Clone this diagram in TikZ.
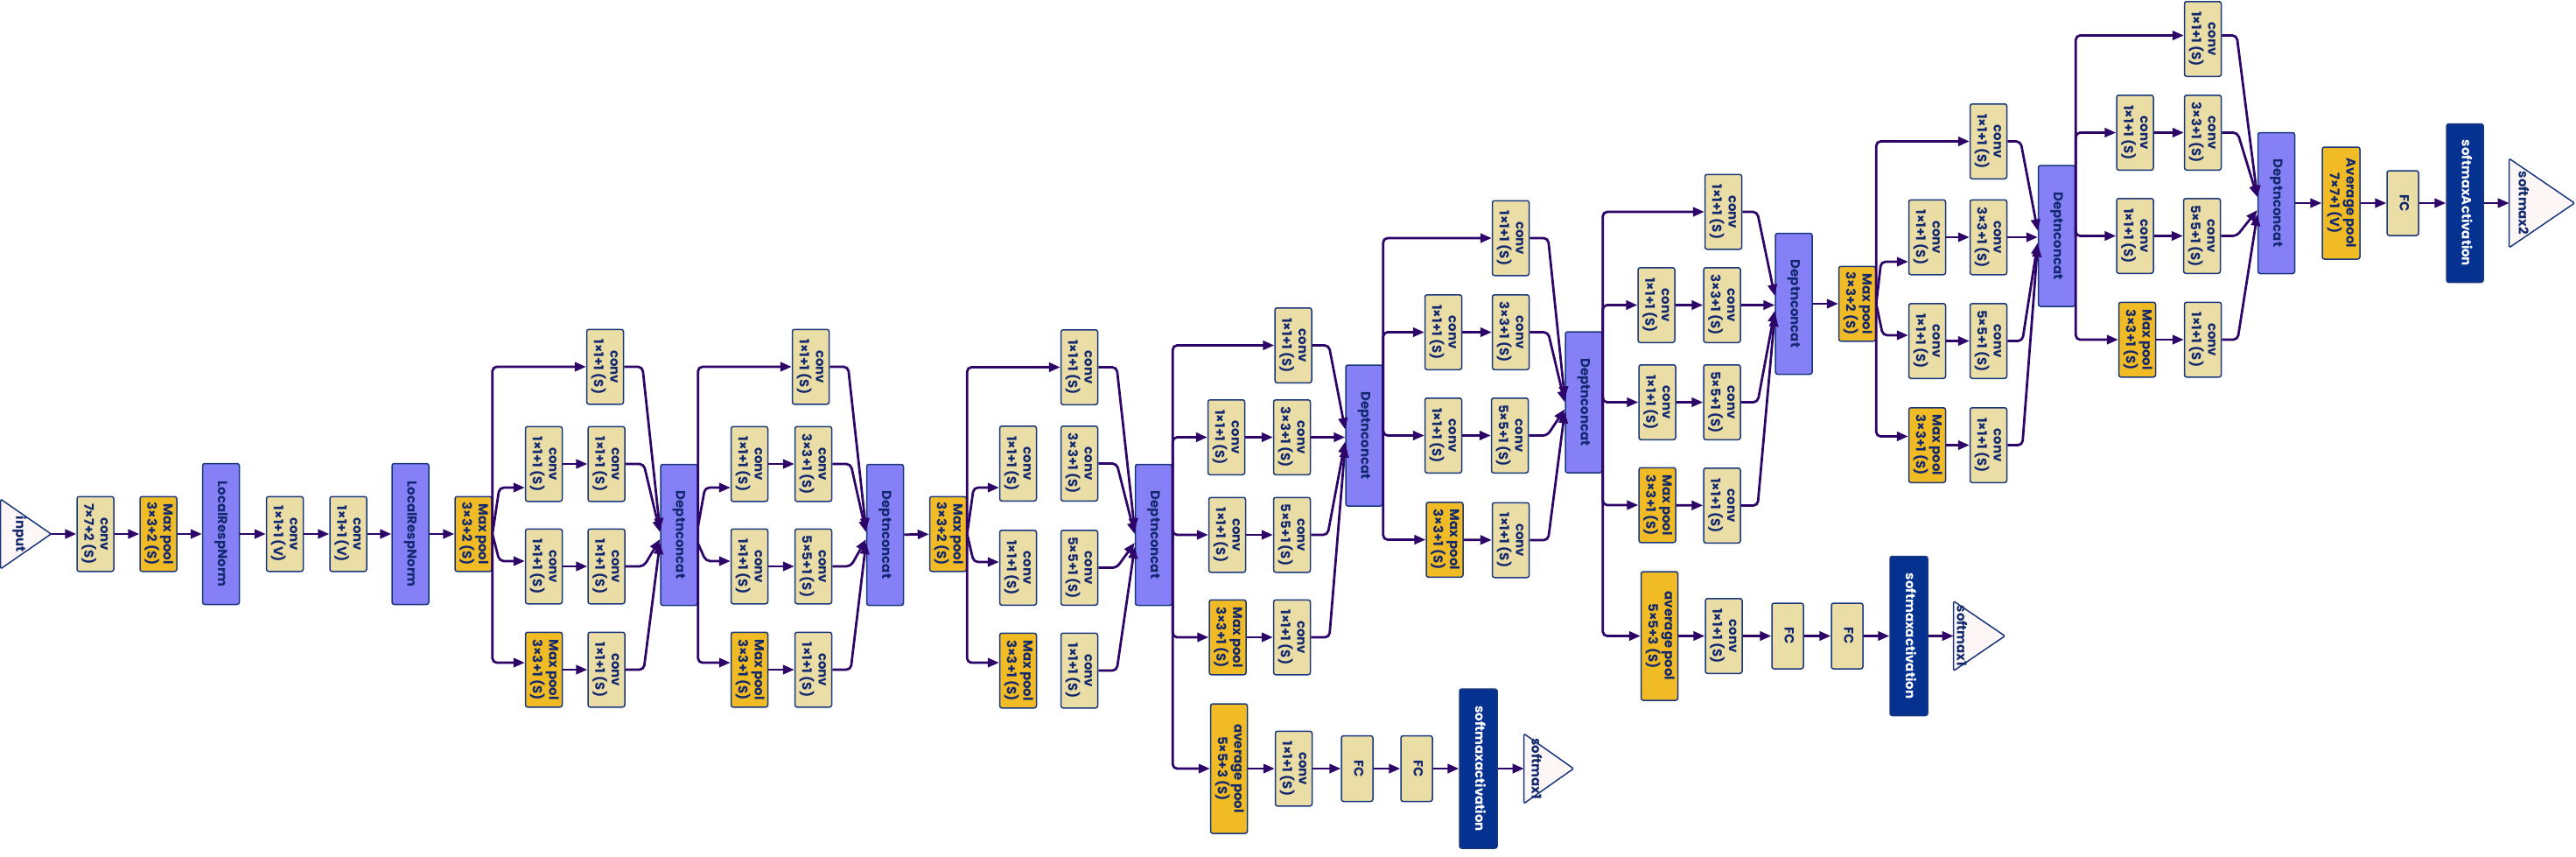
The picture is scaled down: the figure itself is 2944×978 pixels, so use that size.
\documentclass[tikz,border=0pt]{standalone}
\usepackage{fontspec}
\setmainfont{Poppins}
\usepackage{graphicx}
\usetikzlibrary{arrows.meta,calc,backgrounds}

\definecolor{convfill}{RGB}{235,221,166}
\definecolor{poolfill}{RGB}{240,187,36}
\definecolor{catfill}{RGB}{133,128,245}
\definecolor{actfill}{RGB}{5,50,145}
\definecolor{trifill}{RGB}{253,246,246}
\definecolor{edgeblue}{RGB}{25,55,125}
\definecolor{txtblue}{RGB}{18,40,110}
\definecolor{arrowc}{RGB}{45,5,105}

% rotated (top to bottom) box labels
\newcommand{\vt}[1]{\rotatebox{-90}{\begin{tabular}{@{}c@{}}#1\end{tabular}}}
\newcommand{\cv}[1]{\vt{conv\\#1}}
% label pushed towards the base of a triangle
\newcommand{\tl}[2]{\makebox[0pt]{\vt{#1}\hspace{#2}}}

\begin{document}
\begin{tikzpicture}[
    x=0.2mm, y=-0.2mm,
    base/.style={rectangle, rounded corners=0.5mm, draw=edgeblue, line width=0.3mm,
                 inner sep=0pt, text=txtblue, font=\fontsize{8.5}{9.4}\selectfont\bfseries},
    convbox/.style={base, fill=convfill, minimum width=8.4mm, minimum height=17.1mm},
    poolbox/.style={base, fill=poolfill, minimum width=8.4mm, minimum height=17.1mm},
    catbox/.style={base, fill=catfill, minimum width=8.4mm, minimum height=32.2mm},
    fcbox/.style={base, fill=convfill, minimum width=7.2mm, minimum height=15mm},
    actbox/.style={base, fill=actfill, text=white, minimum width=8.6mm, minimum height=36.4mm},
    iotri/.style={rectangle, inner sep=0pt, text=txtblue,
                  font=\fontsize{8.5}{9.4}\selectfont\bfseries},
    trishape/.style={draw=edgeblue, fill=trifill, line width=0.3mm, rounded corners=0.3mm},
    arr/.style={-{Triangle[length=2.6mm,width=2.1mm]}, line width=0.55mm,
                draw=arrowc, rounded corners=1mm}
]
\useasboundingbox (0,0) rectangle (2944,978);

% --- stem ---
\node[iotri, minimum width=11.4mm, minimum height=15.8mm] (in) at (29.5,610) {\tl{input}{3mm}};
\node[convbox] (conv1) at (109,610) {\cv{7×7+2 (S)}};
\node[poolbox] (pool1) at (181,610) {\vt{Max pool\\3×3+2 (S)}};
\node[catbox] (norm1) at (252.5,610) {\vt{LocalRespNorm}};
\node[convbox] (conv2) at (325.5,610) {\cv{1×1+1 (V)}};
\node[convbox] (conv3) at (398,610) {\cv{1×1+1 (V)}};
\node[catbox] (norm2) at (469,610) {\vt{LocalRespNorm}};
\node[poolbox] (pool2) at (541,610) {\vt{Max pool\\3×3+2 (S)}};

\draw[arr] (in.east) -- (conv1);
\foreach \s/\t in {conv1/pool1,pool1/norm1,norm1/conv2,conv2/conv3,conv3/norm2,norm2/pool2}
  \draw[arr] (\s) -- (\t);

% --- inception 3a ---
\node[convbox] (a1) at (691.5,419) {\cv{1×1+1 (S)}};
\node[convbox] (a2) at (621.5,530) {\cv{1×1+1 (S)}};
\node[convbox] (a3) at (693,530) {\cv{1×1+1 (S)}};
\node[convbox] (a4) at (621.5,647) {\cv{1×1+1 (S)}};
\node[convbox] (a5) at (693,647) {\cv{1×1+1 (S)}};
\node[poolbox] (a6) at (621.5,765) {\vt{Max pool\\3×3+1 (S)}};
\node[convbox] (a7) at (693,765) {\cv{1×1+1 (S)}};
\node[catbox] (cat3a) at (776,611) {\vt{Deptnconcat}};

\draw[arr] (pool2.east) |- (a1.west);
\draw[arr] (pool2.east) -- ($(a2.west)+(-29,27)$) -- ($(a2.west)+(0,27)$);
\draw[arr] (pool2.east) -- ($(a4.west)+(-29,-6)$) -- ($(a4.west)+(0,-6)$);
\draw[arr] (pool2.east) |- ($(a6.west)+(0,-8)$);
\foreach \s/\t in {a2/a3,a4/a5,a6/a7} \draw[arr] (\s) -- (\t);
\foreach \s/\d in {a1/-6,a3/-3,a5/5,a7/9}
  \draw[arr] (\s.east) -- ++(21,0) -- ($(cat3a.west)+(0,\d)$);

% --- inception 3b ---
\node[convbox] (b1) at (926.5,419) {\cv{1×1+1 (S)}};
\node[convbox] (b2) at (856.5,530) {\cv{1×1+1 (S)}};
\node[convbox] (b3) at (929.5,530) {\cv{3×3+1 (S)}};
\node[convbox] (b4) at (856.5,647) {\cv{1×1+1 (S)}};
\node[convbox] (b5) at (929.5,647) {\cv{5×5+1 (S)}};
\node[poolbox] (b6) at (856.5,765) {\vt{Max pool\\3×3+1 (S)}};
\node[convbox] (b7) at (929.5,765) {\cv{1×1+1 (S)}};
\node[catbox] (cat3b) at (1011.5,611) {\vt{Deptnconcat}};

\draw[arr] (cat3a.east) |- (b1.west);
\draw[arr] ($(cat3a.east)+(0,-10)$) -- ($(b2.west)+(-29,27)$) -- ($(b2.west)+(0,27)$);
\draw[arr] ($(cat3a.east)+(0,10)$) -- ($(b4.west)+(-28,-6)$) -- ($(b4.west)+(0,-6)$);
\draw[arr] (cat3a.east) |- ($(b6.west)+(0,-8)$);
\foreach \s/\t in {b2/b3,b4/b5,b6/b7} \draw[arr] (\s) -- (\t);
\foreach \s/\d in {b1/-6,b3/-3,b5/5,b7/9}
  \draw[arr] (\s.east) -- ++(21,0) -- ($(cat3b.west)+(0,\d)$);

\node[poolbox] (pool3) at (1083.5,610) {\vt{Max pool\\3×3+2 (S)}};
\draw[arr] (cat3b) -- (pool3);

% --- inception 4a ---
\node[convbox] (c1) at (1233.5,419.5) {\cv{1×1+1 (S)}};
\node[convbox] (c2) at (1163.5,529.5) {\cv{1×1+1 (S)}};
\node[convbox] (c3) at (1233.5,529.5) {\cv{3×3+1 (S)}};
\node[convbox] (c4) at (1163.5,648.5) {\cv{1×1+1 (S)}};
\node[convbox] (c5) at (1233.5,648.5) {\cv{5×5+1 (S)}};
\node[poolbox] (c6) at (1163.5,766) {\vt{Max pool\\3×3+1 (S)}};
\node[convbox] (c7) at (1233.5,766) {\cv{1×1+1 (S)}};
\node[catbox] (cat4a) at (1318.5,611) {\vt{Deptnconcat}};

\draw[arr] (pool3.east) |- (c1.west);
\draw[arr] (pool3.east) -- ($(c2.west)+(-29,27.5)$) -- ($(c2.west)+(0,27.5)$);
\draw[arr] (pool3.east) -- ($(c4.west)+(-29,-6.5)$) -- ($(c4.west)+(0,-6.5)$);
\draw[arr] (pool3.east) |- ($(c6.west)+(0,-9)$);
\foreach \s/\d in {c1/-6,c3/-1,c5/9,c7/14}
  \draw[arr] (\s.east) -- ++(21,0) -- ($(cat4a.west)+(0,\d)$);

% --- inception 4b + auxiliary classifier ---
\node[convbox] (d1) at (1478,394.5) {\cv{1×1+1 (S)}};
\node[convbox] (d2) at (1401.5,499.5) {\cv{1×1+1 (S)}};
\node[convbox] (d3) at (1476.5,499.5) {\cv{3×3+1 (S)}};
\node[convbox] (d4) at (1402.5,611) {\cv{1×1+1 (S)}};
\node[convbox] (d5) at (1476.5,611) {\cv{5×5+1 (S)}};
\node[poolbox] (d6) at (1403,728) {\vt{Max pool\\3×3+1 (S)}};
\node[convbox] (d7) at (1476.5,728) {\cv{1×1+1 (S)}};
\node[catbox] (cat4b) at (1559,497.5) {\vt{Deptnconcat}};

\node[poolbox, minimum height=29.6mm] (x1) at (1404.5,878) {\vt{average pool\\5×5+3 (S)}};
\node[convbox] (x2) at (1478.5,878) {\cv{1×1+1 (S)}};
\node[fcbox] (x3) at (1551,878) {\vt{FC}};
\node[fcbox] (x4) at (1619,878) {\vt{FC}};
\node[actbox] (x5) at (1689.5,878) {\vt{softmaxactivation}};
\node[iotri, minimum width=11.2mm, minimum height=15.8mm] (x6) at (1770,878) {\tl{softmax1}{6.4mm}};

\foreach \t in {d1,d2,d4,d6,x1} \draw[arr] (cat4a.east) |- (\t.west);
\foreach \s/\t in {d2/d3,d4/d5,d6/d7,x1/x2,x2/x3,x3/x4,x4/x5,x5/x6} \draw[arr] (\s) -- (\t);
\draw[arr] (d1.east) -- ++(19,0) -- ($(cat4b.west)+(0,-7)$);
\draw[arr] (d3.east) -- (d3.east -| cat4b.west);
\draw[arr] (d5.east) -- ++(19,0) -- ($(cat4b.west)+(0,7)$);
\draw[arr] (d7.east) -- ++(21,0) -- ($(cat4b.west)+(0,12)$);

% --- inception 4c ---
\node[convbox] (e1) at (1726.5,272) {\cv{1×1+1 (S)}};
\node[convbox] (e2) at (1649.5,379.5) {\cv{1×1+1 (S)}};
\node[convbox] (e3) at (1726.5,379.5) {\cv{3×3+1 (S)}};
\node[convbox] (e4) at (1649.5,497.5) {\cv{1×1+1 (S)}};
\node[convbox] (e5) at (1725.5,497.5) {\cv{5×5+1 (S)}};
\node[poolbox] (e6) at (1651,616.5) {\vt{Max pool\\3×3+1 (S)}};
\node[convbox] (e7) at (1726.5,617) {\cv{1×1+1 (S)}};
\node[catbox] (cat4c) at (1810,459.5) {\vt{Deptnconcat}};

\foreach \t in {e1,e2,e4,e6} \draw[arr] (cat4b.east) |- (\t.west);
\foreach \s/\t in {e2/e3,e4/e5,e6/e7} \draw[arr] (\s) -- (\t);
\foreach \s/\d in {e1/-5,e3/0,e5/8,e7/11}
  \draw[arr] (\s.east) -- ++(21,0) -- ($(cat4c.west)+(0,\d)$);

% --- inception 4d + auxiliary classifier ---
\node[convbox] (f1) at (1969.5,242) {\cv{1×1+1 (S)}};
\node[convbox] (f2) at (1893,348.5) {\cv{1×1+1 (S)}};
\node[convbox] (f3) at (1968,348.5) {\cv{3×3+1 (S)}};
\node[convbox] (f4) at (1894,459.5) {\cv{1×1+1 (S)}};
\node[convbox] (f5) at (1968,459.5) {\cv{5×5+1 (S)}};
\node[poolbox] (f6) at (1894,577) {\vt{Max pool\\3×3+1 (S)}};
\node[convbox] (f7) at (1968,577.5) {\cv{1×1+1 (S)}};
\node[catbox] (cat4d) at (2050,347) {\vt{Deptnconcat}};

\node[poolbox, minimum height=29.4mm] (y1) at (1896.5,726.5) {\vt{average pool\\5×5+3 (S)}};
\node[convbox] (y2) at (1970,726.5) {\cv{1×1+1 (S)}};
\node[fcbox] (y3) at (2043,726.5) {\vt{FC}};
\node[fcbox] (y4) at (2111,726.5) {\vt{FC}};
\node[actbox] (y5) at (2181.5,726.5) {\vt{softmaxactivation}};
\node[iotri, minimum width=11.6mm, minimum height=15.8mm] (y6) at (2262,726.5) {\tl{softmax1}{8.8mm}};

\foreach \t in {f1,f2,f4,f6,y1} \draw[arr] (cat4c.east) |- (\t.west);
\foreach \s/\t in {f2/f3,f4/f5,f6/f7,y1/y2,y2/y3,y3/y4,y4/y5,y5/y6} \draw[arr] (\s) -- (\t);
\draw[arr] (f1.east) -- ++(17,0) -- ($(cat4d.west)+(0,-9)$);
\draw[arr] (f3.east) -- (f3.east -| cat4d.west);
\draw[arr] (f5.east) -- ++(19,0) -- ($(cat4d.west)+(0,8)$);
\draw[arr] (f7.east) -- ++(19,0) -- ($(cat4d.west)+(0,13)$);

\node[poolbox] (pool4) at (2122.5,347) {\vt{Max pool\\3×3+2 (S)}};
\draw[arr] (cat4d) -- (pool4);

% --- inception 5a ---
\node[convbox] (g1) at (2272.5,161.5) {\cv{1×1+1 (S)}};
\node[convbox] (g2) at (2202.5,271) {\cv{1×1+1 (S)}};
\node[convbox] (g3) at (2272.5,271) {\cv{3×3+1 (S)}};
\node[convbox] (g4) at (2202.5,389.5) {\cv{1×1+1 (S)}};
\node[convbox] (g5) at (2272.5,389.5) {\cv{5×5+1 (S)}};
\node[poolbox] (g6) at (2202.5,508.5) {\vt{Max pool\\3×3+1 (S)}};
\node[convbox] (g7) at (2272.5,508.5) {\cv{1×1+1 (S)}};
\node[catbox] (cat5a) at (2350.5,269.5) {\vt{Deptnconcat}};

\draw[arr] (pool4.east) |- (g1.west);
\draw[arr] (pool4.east) -- ($(g2.west)+(-31,28)$) -- ($(g2.west)+(0,28)$);
\draw[arr] (pool4.east) -- ($(g4.west)+(-29,-6.5)$) -- ($(g4.west)+(0,-6.5)$);
\draw[arr] (pool4.east) |- ($(g6.west)+(0,-10)$);
\foreach \s/\t in {g2/g3,g4/g5,g6/g7} \draw[arr] (\s) -- (\t);
\draw[arr] (g1.east) -- ++(15,0) -- ($(cat5a.west)+(0,-6)$);
\draw[arr] (g3.east) -- (g3.east -| cat5a.west);
\draw[arr] (g5.east) -- ++(17,0) -- ($(cat5a.west)+(0,8)$);
\draw[arr] (g7.east) -- ++(17,0) -- ($(cat5a.west)+(0,11)$);

% --- inception 5b ---
\node[convbox] (h1) at (2517.5,44.5) {\cv{1×1+1 (S)}};
\node[convbox] (h2) at (2440,151.5) {\cv{1×1+1 (S)}};
\node[convbox] (h3) at (2517.5,151.5) {\cv{3×3+1 (S)}};
\node[convbox] (h4) at (2440,269.5) {\cv{1×1+1 (S)}};
\node[convbox] (h5) at (2516.5,269.5) {\cv{5×5+1 (S)}};
\node[poolbox] (h6) at (2442.5,388) {\vt{Max pool\\3×3+1 (S)}};
\node[convbox] (h7) at (2517.5,388) {\cv{1×1+1 (S)}};
\node[catbox] (cat5b) at (2601.5,232) {\vt{Deptnconcat}};

\draw[arr] (cat5a.east) |- ($(h1.west)+(0,-4)$);
\foreach \t in {h2,h4,h6} \draw[arr] (cat5a.east) |- (\t.west);
\foreach \s/\t in {h2/h3,h4/h5,h6/h7} \draw[arr] (\s) -- (\t);
\draw[arr] ($(h1.east)+(0,-4)$) -- ++(17,0) -- ($(cat5b.west)+(0,-7)$);
\foreach \s/\d in {h3/-7,h5/8,h7/13}
  \draw[arr] (\s.east) -- ++(18,0) -- ($(cat5b.west)+(0,\d)$);

% --- classifier ---
\node[poolbox, minimum width=8.6mm, minimum height=25.6mm] (avg) at (2675.5,232) {\vt{Average pool\\7×7+1 (V)}};
\node[fcbox, minimum height=14.8mm] (fc) at (2746,232) {\vt{FC}};
\node[actbox, minimum width=8.4mm, minimum height=36.2mm] (act) at (2817,232) {\vt{softmaxActivation}};
\node[iotri, minimum width=14.8mm, minimum height=20.2mm] (out) at (2905,232) {\tl{softmax2}{9.2mm}};

\foreach \s/\t in {cat5b/avg,avg/fc,fc/act,act/out} \draw[arr] (\s) -- (\t);

% triangle outlines behind the input/output labels
\begin{scope}[on background layer]
  \foreach \t in {in,x6,y6,out}
    \draw[trishape] (\t.north west) -- (\t.east) -- (\t.south west) -- cycle;
\end{scope}

\end{tikzpicture}
\end{document}
